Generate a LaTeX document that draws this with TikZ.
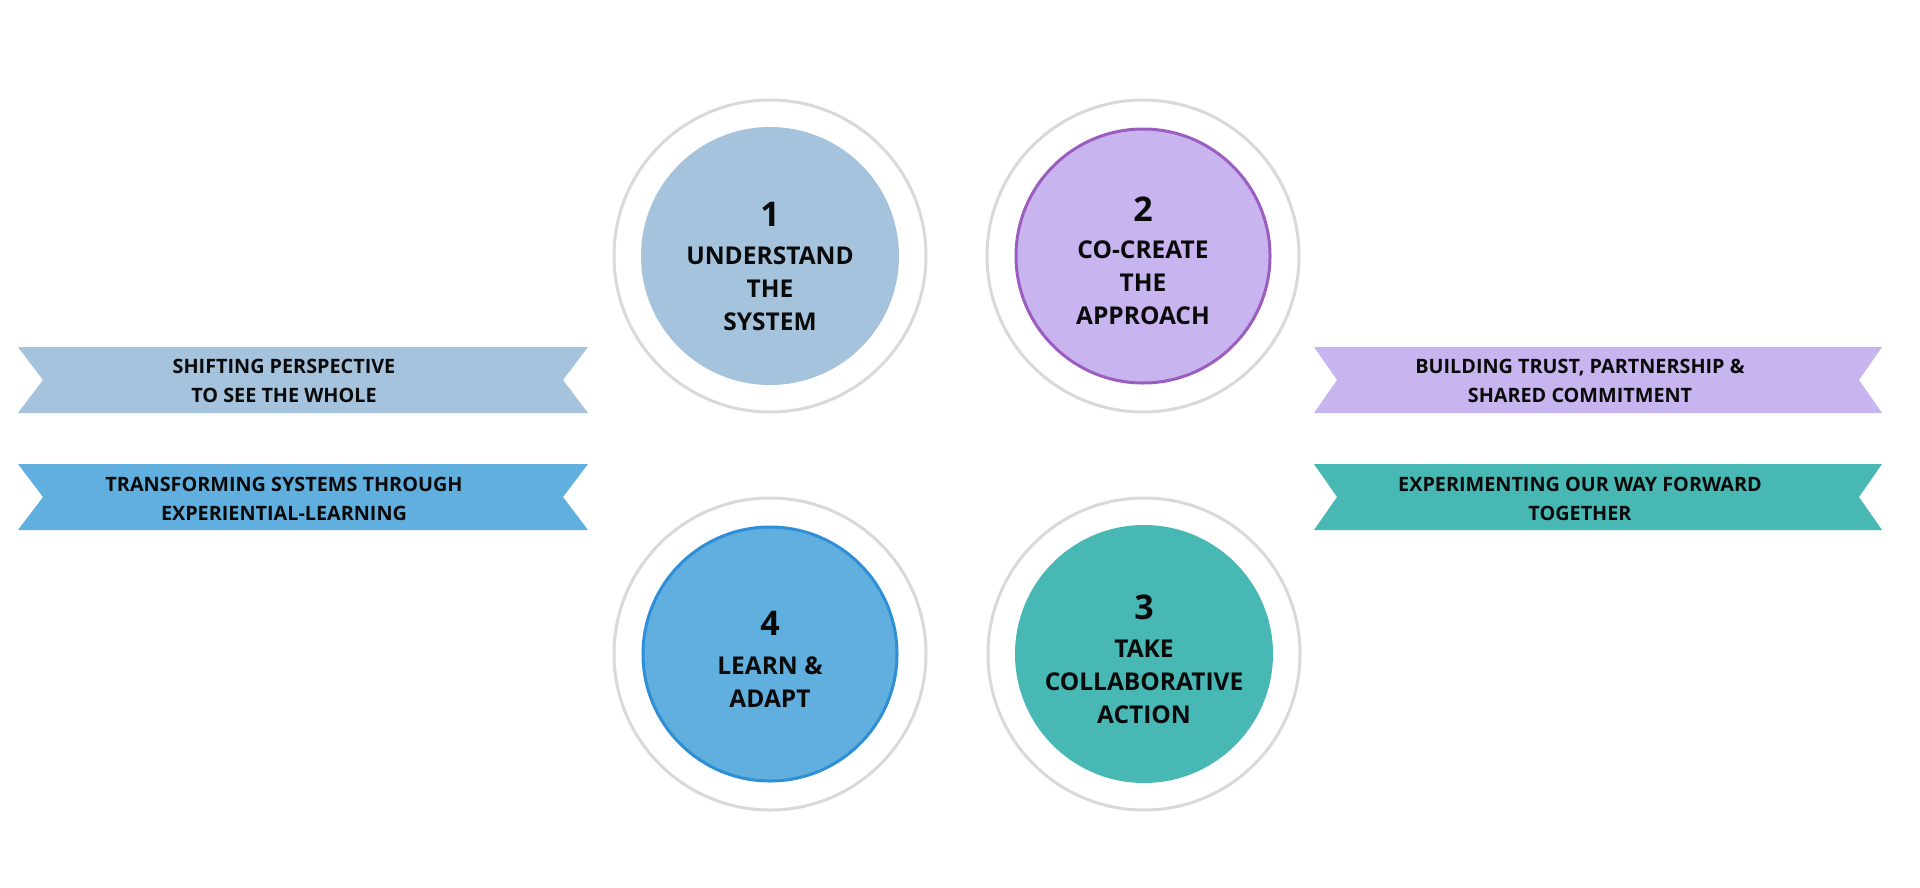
\documentclass[tikz,border=0pt]{standalone}
\usepackage{fontspec}
\setmainfont{Open Sans}
\definecolor{ringgray}{HTML}{D9D9D9}
\definecolor{blueA}{HTML}{A6C3DE}
\definecolor{lav}{HTML}{C8B5EF}
\definecolor{lavline}{HTML}{9B5DBF}
\definecolor{teal}{HTML}{48B8B5}
\definecolor{blueB}{HTML}{61AFDE}
\definecolor{blueBline}{HTML}{2E8ED6}
\definecolor{txt}{HTML}{0A0A0A}
\begin{document}
\begin{tikzpicture}[x=1pt,y=-1pt,
  ring/.style={circle,draw=ringgray,line width=3pt,minimum size=312pt,inner sep=0pt},
  disc/.style={circle,minimum size=258pt,inner sep=0pt},
  rimdisc/.style={circle,minimum size=254pt,inner sep=0pt,line width=3pt},
  numtext/.style={font=\bfseries\fontsize{34}{36}\selectfont,text=txt,inner sep=0pt},
  disctext/.style={align=center,font=\bfseries\fontsize{24.5}{33}\selectfont,text=txt,inner sep=0pt},
  bandtext/.style={align=center,font=\bfseries\fontsize{19.8}{29}\selectfont,text=txt,inner sep=0pt}]
\useasboundingbox (0,0) rectangle (1920,887);
\fill[white] (0,0) rectangle (1920,887);
% rings and discs
\node[ring] (r1) at (770,256) {};
\node[ring] (r2) at (1143,256) {};
\node[ring] (r4) at (770,654) {};
\node[ring] (r3) at (1144,654) {};
\node[disc,fill=blueA] (c1) at (r1.center) {};
\node[rimdisc,fill=lav,draw=lavline] (c2) at (r2.center) {};
\node[rimdisc,fill=blueB,draw=blueBline] (c4) at (r4.center) {};
\node[disc,fill=teal] (c3) at (r3.center) {};
% texts
\node[numtext] (n1) at (770,214) {1};
\node[disctext] (t1) at (770,289) {UNDERSTAND\\THE\\SYSTEM};
\node[numtext] (n2) at (1143,209) {2};
\node[disctext] (t2) at (1143,283) {CO-CREATE\\THE\\APPROACH};
\node[numtext] (n4) at (770,623) {4};
\node[disctext] (t4) at (770,682) {LEARN \&\\ADAPT};
\node[numtext] (n3) at (1144,607) {3};
\node[disctext] (t3) at (1144,682) {TAKE\\COLLABORATIVE\\ACTION};
% ribbons
\fill[blueA] (18,347) -- (588,347) -- (563,380) -- (588,413) -- (18,413) -- (43,380) -- cycle;
\fill[blueB] (18,464) -- (588,464) -- (563,497) -- (588,530) -- (18,530) -- (43,497) -- cycle;
\fill[lav] (1314,347) -- (1882,347) -- (1859,380) -- (1882,413) -- (1314,413) -- (1337,380) -- cycle;
\fill[teal] (1314,464) -- (1882,464) -- (1859,497) -- (1882,530) -- (1314,530) -- (1337,497) -- cycle;
\node[bandtext] (b1) at (284,381) {SHIFTING PERSPECTIVE\\TO SEE THE WHOLE};
\node[bandtext] (b2) at (284,499) {TRANSFORMING SYSTEMS THROUGH\\EXPERIENTIAL-LEARNING};
\node[bandtext] (b3) at (1580,381) {BUILDING TRUST, PARTNERSHIP \&\\SHARED COMMITMENT};
\node[bandtext] (b4) at (1580,499) {EXPERIMENTING OUR WAY FORWARD\\TOGETHER};
\end{tikzpicture}
\end{document}
